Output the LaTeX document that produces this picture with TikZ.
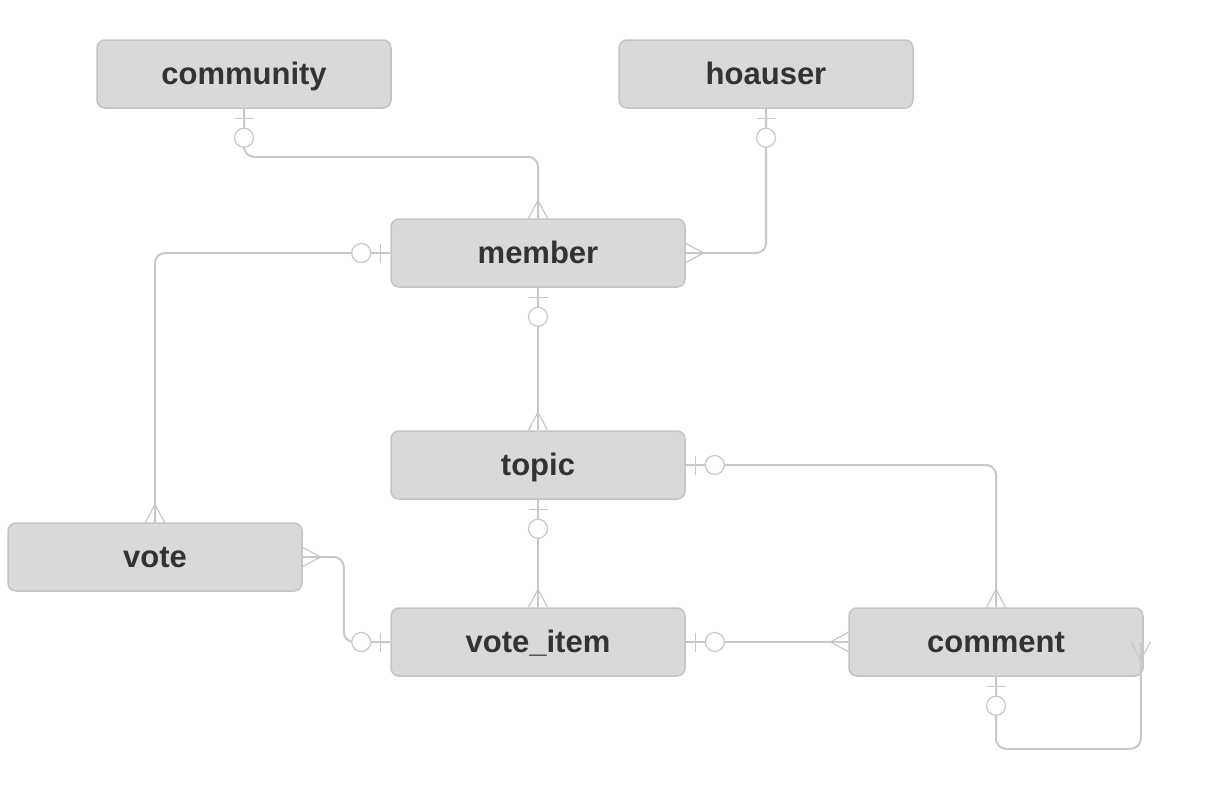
\documentclass[tikz,border=0pt]{standalone}
\usepackage{fontspec}
\setmainfont{Liberation Sans}
\usetikzlibrary{calc}
\definecolor{boxfill}{HTML}{D9D9D9}
\definecolor{boxline}{HTML}{C4C4C4}
\definecolor{relline}{HTML}{C8C8C8}
\definecolor{labeltext}{HTML}{333333}
\tikzset{
	entity/.style={draw=boxline, fill=boxfill, line width=1.5pt, rounded corners=8pt, minimum width=294pt, minimum height=68pt, text height=26pt, text depth=6pt, text=labeltext, font=\fontsize{31}{37}\selectfont\bfseries},
	relation/.style={draw=relline, line width=2pt, rounded corners=10pt},
	tipline/.style={draw=relline, line width=1.2pt}
}
\def\zeroone(#1)(#2){\begin{scope}[shift={(#1)},rotate=#2]\draw[tipline] (10,-9.5) -- (10,9.5); \draw[tipline,fill=white] (29,0) circle (9.5);\end{scope}}
\def\crowfoot(#1)(#2){\begin{scope}[shift={(#1)},rotate=#2]\draw[tipline] (0,-9.5) -- (18,0) -- (0,9.5); \draw[tipline] (0,0) -- (18,0);\end{scope}}

\begin{document}
\begin{tikzpicture}[x=1pt, y=1pt]
		%%%%% START %%%%%
		\useasboundingbox (0, 0) rectangle (1208, -806);
		
		\node[entity] (community) at (244, -74) {community};
		\node[entity] (hoauser) at (766, -74) {hoauser};
		\node[entity] (member) at (538, -253) {member};
		\node[entity] (topic) at (538, -465) {topic};
		\node[entity] (vote) at (155, -557) {vote};
		\node[entity] (vote_item) at (538, -642) {vote\_item};
		\node[entity] (comment) at (996, -642) {comment};
		\coordinate (selfend) at ($(comment.east)+(-3, 0)$);
		
		\draw[relation] (community.south) -- ++(0, -48) -| (member.north);
		\draw[relation] (hoauser.south) |- (member.east);
		\draw[relation] (member.west) -| (vote.north);
		\draw[relation] (member.south) -- (topic.north);
		\draw[relation] (topic.east) -| (comment.north);
		\draw[relation] (topic.south) -- (vote_item.north);
		\draw[relation] (vote.east) -- ++(41, 0) |- (vote_item.west);
		\draw[relation] (vote_item.east) -- (comment.west);
		\draw[relation] (comment.south) -- ++(0, -72) -| (selfend);
		
		\zeroone(community.south)(-90)
		\crowfoot(member.north)(90)
		\zeroone(hoauser.south)(-90)
		\crowfoot(member.east)(0)
		\zeroone(member.west)(180)
		\crowfoot(vote.north)(90)
		\zeroone(member.south)(-90)
		\crowfoot(topic.north)(90)
		\zeroone(topic.east)(0)
		\crowfoot(comment.north)(90)
		\zeroone(topic.south)(-90)
		\crowfoot(vote_item.north)(90)
		\crowfoot(vote.east)(0)
		\zeroone(vote_item.west)(180)
		\zeroone(vote_item.east)(0)
		\crowfoot(comment.west)(180)
		\zeroone(comment.south)(-90)
		\crowfoot(selfend)(-90)
		
		%%%%% END %%%%%
	\end{tikzpicture}
\end{document}
